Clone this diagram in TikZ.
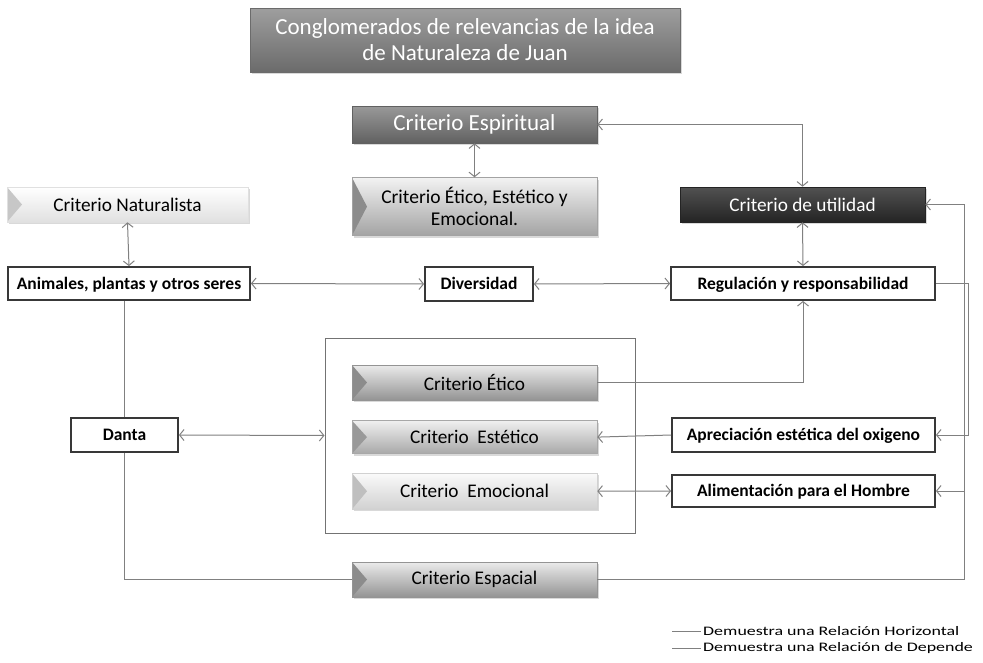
\documentclass[tikz,border=0pt]{standalone}
\usepackage{fontspec}
\setmainfont{Carlito}
\newfontfamily\legendfont[FakeStretch=1.38]{Carlito}
\usetikzlibrary{arrows.meta,positioning,shadows}

\begin{document}
\begin{tikzpicture}[
  x=1pt,
  y=-1pt,
  font=\fontsize{19.3}{22}\selectfont,
  >={Straight Barb[length=4.5pt,width=11pt]},
  crit/.style 2 args={
    top color=black!#1,
    bottom color=black!#2,
    draw=black!#2,
    line width=0.6pt,
    inner sep=0pt,
    align=center,
    drop shadow={opacity=0.3,shadow xshift=1.5pt,shadow yshift=-2pt}
  },
  bevel/.style={
    path picture={
      \fill[black!#1] (path picture bounding box.north west) --
        ([xshift=15pt]path picture bounding box.west) --
        (path picture bounding box.south west) -- cycle;
    }
  },
  plain box/.style={
    draw=black!78,
    fill=white,
    line width=1.8pt,
    inner sep=0pt,
    text height=13pt,
    text depth=2pt,
    font=\bfseries\fontsize{17.5}{20}\selectfont
  },
  big text/.style={
    text=white,
    font=\fontsize{23}{26}\selectfont
  },
  link/.style={
    draw=black!50,
    line width=1pt
  },
  legend/.style={
    anchor=west,
    inner sep=0pt,
    font=\legendfont\fontsize{13}{13}\selectfont
  }
]
\useasboundingbox (0,0) rectangle (983,662);

\node[crit={38}{58},big text,minimum width=430,minimum height=64] (titulo) at (465,40)
  {Conglomerados de relevancias de la idea\\de Naturaleza de Juan};

\node[crit={40}{62},big text,minimum width=245,minimum height=37] (crit-espiritual) at (474.5,124.5)
  {Criterio Espiritual};
\node[crit={5}{36},bevel=45,minimum width=245,minimum height=58,
      font=\fontsize{19.5}{22}\selectfont,below=34pt of crit-espiritual] (crit-eee)
  {Criterio Ético, Estético y\\Emocional.};

\node[crit={0}{12},bevel=22,minimum width=241,minimum height=35] (crit-naturalista) at (127.5,204.5)
  {Criterio Naturalista};
\node[crit={68}{86},text=white,minimum width=245,minimum height=35] (crit-utilidad) at (802.5,204.5)
  {Criterio de utilidad};

\node[plain box,minimum width=242,minimum height=33] (animales) at (129,283.5)
  {Animales, plantas y otros seres};
\node[plain box,minimum width=108,minimum height=34] (diversidad) at (479,284)
  {Diversidad};
\node[plain box,minimum width=264,minimum height=33] (regulacion) at (803,283.5)
  {Regulación y responsabilidad};

\node[draw=black!55,line width=1pt,minimum width=310,minimum height=195] (grupo) at (480,435.5) {};
\node[crit={8}{42},bevel=45,minimum width=245,minimum height=35] (crit-etico) at (474.5,382.5)
  {Criterio Ético};
\node[crit={6}{34},bevel=40,minimum width=245,minimum height=33,below=20pt of crit-etico] (crit-estetico)
  {Criterio~~Estético};
\node[crit={2}{18},bevel=25,minimum width=245,minimum height=36,below=19pt of crit-estetico] (crit-emocional)
  {Criterio~~Emocional};
\node[crit={8}{42},bevel=45,minimum width=245,minimum height=35] (crit-espacial) at (474.5,579.5)
  {Criterio Espacial};

\node[plain box,minimum width=107,minimum height=34] (danta) at (124.5,435)
  {Danta};
\node[plain box,minimum width=263,minimum height=34] (apreciacion) at (803.5,435)
  {Apreciación estética del oxigeno};
\node[plain box,minimum width=263,minimum height=32] (alimentacion) at (803.5,491)
  {Alimentación para el Hombre};

\coordinate (rail-a) at (964,0);
\coordinate (rail-b) at (968,0);

\draw[link,<->] (crit-espiritual.east) -| (crit-utilidad.north);
\draw[link,<->] (crit-espiritual.south) -- (crit-eee.north);
\draw[link,<->] (crit-naturalista.south) -- (animales.north);
\draw[link,<->] (crit-utilidad.south) -- (regulacion.north);
\draw[link,<->] (animales.east) -- (diversidad.west);
\draw[link,<->] (diversidad.east) -- (regulacion.west);
\draw[link] (animales.south -| danta.north) -- (danta.north);
\draw[link] (danta.south) |- (crit-espacial.west);
\draw[link,<->] (danta.east) -- (grupo.west);
\draw[link,->] (crit-etico.east) -| (regulacion.south);
\draw[link,->] (apreciacion.west) -- (crit-estetico.east);
\draw[link,<->] (crit-emocional.east) -- (alimentacion.west);
\draw[link,->] (crit-espacial.east) -- (crit-espacial.east -| rail-a) |- (crit-utilidad.east);
\draw[link,->] (rail-a |- alimentacion.east) -- (alimentacion.east);
\draw[link,->] (regulacion.east) -| (rail-b |- apreciacion.east) -- (apreciacion.east);

\node[legend] (leyenda-h) at (703,631) {Demuestra una Relación Horizontal};
\node[legend] (leyenda-d) at (703,648) {Demuestra una Relación de Depende};
\draw[link,line width=0.8pt] ([xshift=-31pt]leyenda-h.west) -- ([xshift=-2pt]leyenda-h.west);
\draw[link,line width=0.8pt] ([xshift=-31pt]leyenda-d.west) -- ([xshift=-2pt]leyenda-d.west);

\end{tikzpicture}
\end{document}
